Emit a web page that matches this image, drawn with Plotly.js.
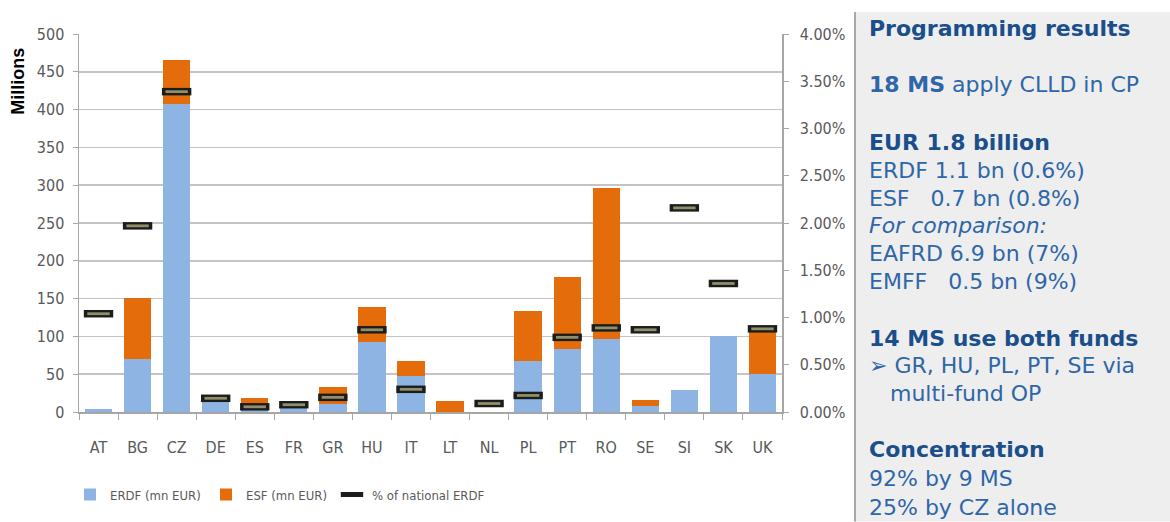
<!DOCTYPE html>
<html>
<head>
<meta charset="utf-8">
<script src="https://cdn.plot.ly/plotly-3.0.1.min.js"></script>
<style>
  html, body { margin: 0; padding: 0; background: #ffffff; }
  #chart { width: 1170px; height: 522px; }
</style>
</head>
<body>
<div id="chart"></div>
<script>
// CLLD programming by Member State
const countries = ['AT','BG','CZ','DE','ES','FR','GR','HU','IT','LT','NL','PL','PT','RO','SE','SI','SK','UK'];
const erdf = [4, 70, 407, 13, 10, 6, 11, 93, 48, 0, 0, 67, 83, 96, 8, 29, 100, 50];
const esf  = [0, 81, 58, 7, 9, 7, 22, 46, 19, 14, 0, 66, 96, 200, 8, 0, 0, 60];
const pctNationalErdf = [1.04, 1.97, 3.39, 0.145, 0.055, 0.077, 0.155, 0.87, 0.24, null, 0.09, 0.175, 0.79, 0.89, 0.87, 2.16, 1.36, 0.88];

// side panel lines: [text, y position in px, style]
const panelLines = [
  ['<b>Programming results</b>', 28, 'head'],
  ['<b>18 MS</b> apply CLLD in CP', 85, 'body'],
  ['<b>EUR 1.8 billion</b>', 143, 'head'],
  ['ERDF 1.1 bn (0.6%)', 171, 'body'],
  ['ESF   0.7 bn (0.8%)', 199, 'body'],
  ['<i>For comparison:</i>', 227, 'body'],
  ['EAFRD 6.9 bn (7%)', 255, 'body'],
  ['EMFF   0.5 bn (9%)', 283, 'body'],
  ['<b>14 MS use both funds</b>', 340, 'head'],
  ['\u27A2 GR, HU, PL, PT, SE via', 367, 'body'],
  ['   multi-fund OP', 395, 'body'],
  ['<b>Concentration</b>', 452, 'head'],
  ['92% by 9 MS', 481, 'body'],
  ['25% by CZ alone', 510, 'body']
];

const W = 1170, H = 522;
const M = { l: 79, r: 388, t: 34, b: 108 };
const PW = W - M.l - M.r, PH = H - M.t - M.b;
const px2x = px => (px - M.l) / PW;
const py2y = py => (M.t + PH - py) / PH;

const narrow = 'Liberation Sans Narrow, DejaVu Sans Condensed, Arial Narrow, sans-serif';
const axisFont = { family: narrow, size: 16, color: '#595959' };
const panelFont = 'DejaVu Sans, Verdana, sans-serif';
const legendFont = { family: narrow, size: 13, color: '#595959' };

const traces = [
  {
    type: 'bar', name: 'ERDF (mn EUR)', x: countries, y: erdf,
    marker: { color: '#8db4e2' }, yaxis: 'y', legend: 'legend'
  },
  {
    type: 'bar', name: 'ESF (mn EUR)', x: countries, y: esf,
    marker: { color: '#e46c0a' }, yaxis: 'y', legend: 'legend2'
  },
  {
    type: 'scatter', mode: 'markers', name: '% of national ERDF', legendgroup: 'pct', legend: 'legend3',
    x: countries, y: pctNationalErdf, yaxis: 'y2',
    marker: { symbol: 'line-ew', size: 21, line: { width: 7.5, color: '#1c1c1c' } }
  },
  {
    type: 'scatter', mode: 'markers', name: '% of national ERDF', legendgroup: 'pct', showlegend: false, legend: 'legend3',
    x: countries, y: pctNationalErdf, yaxis: 'y2',
    marker: { symbol: 'line-ew', size: 16, line: { width: 2.8, color: '#8f8f6a' } }
  }
];

const shapes = [
  { type: 'rect', xref: 'paper', yref: 'paper', x0: px2x(855), x1: px2x(1172), y0: py2y(524), y1: py2y(12),
    fillcolor: '#eeeeee', line: { width: 0 }, layer: 'below' },
  { type: 'line', xref: 'paper', yref: 'paper', x0: px2x(855), x1: px2x(855), y0: py2y(524), y1: py2y(12),
    line: { color: '#a8a8a8', width: 2 } }
];

const annotations = panelLines.map(([txt, py, kind]) => ({
  xref: 'paper', yref: 'paper', x: px2x(867), y: py2y(py),
  xanchor: 'left', yanchor: 'middle', showarrow: false, align: 'left',
  text: txt.replace(/ {2,}/g, s => '\u00A0'.repeat(s.length)),
  font: { family: panelFont, size: 22, color: kind === 'head' ? '#1b4f8c' : '#2e66a8' }
}));

// left axis caption
annotations.push({
  xref: 'paper', yref: 'paper', x: px2x(18), y: py2y(82),
  xanchor: 'center', yanchor: 'middle', showarrow: false, textangle: -90,
  text: '<b>Millions</b>',
  font: { family: 'Liberation Sans, Arial, sans-serif', size: 18, color: '#000000' }
});

const legendBase = { orientation: 'h', yanchor: 'middle', y: py2y(497), xanchor: 'left', font: legendFont, itemwidth: 30, bgcolor: 'rgba(0,0,0,0)' };

const layout = {
  width: W, height: H,
  margin: M,
  paper_bgcolor: '#ffffff', plot_bgcolor: '#ffffff',
  barmode: 'stack', bargap: 0.3,
  showlegend: true,
  legend:  Object.assign({}, legendBase, { x: px2x(70) }),
  legend2: Object.assign({}, legendBase, { x: px2x(206) }),
  legend3: Object.assign({}, legendBase, { x: px2x(332) }),
  xaxis: {
    type: 'category', range: [-0.5, countries.length - 0.5],
    showline: true, linecolor: '#a6a6a6', linewidth: 1.5,
    ticks: 'outside', tickson: 'boundaries', ticklen: 6, tickcolor: '#a6a6a6',
    tickfont: axisFont, ticklabelstandoff: 20, showgrid: false, fixedrange: true
  },
  yaxis: {
    range: [0, 500], dtick: 50, showline: true, linecolor: '#a6a6a6', linewidth: 1.5,
    ticks: 'outside', ticklen: 5, tickcolor: '#a6a6a6',
    gridcolor: '#c4c4c4', gridwidth: 1.5, zeroline: false,
    tickfont: axisFont, ticklabelstandoff: 5,
    automargin: false, fixedrange: true
  },
  yaxis2: {
    overlaying: 'y', side: 'right', range: [0, 4], dtick: 0.5,
    tickformat: '.2f', ticksuffix: '%',
    showline: true, linecolor: '#a6a6a6', linewidth: 1.5,
    ticks: 'outside', ticklen: 5, tickcolor: '#a6a6a6',
    showgrid: false, zeroline: false, tickfont: axisFont, ticklabelstandoff: 8,
    automargin: false, fixedrange: true
  },
  shapes: shapes,
  annotations: annotations
};

Plotly.newPlot('chart', traces, layout, { displayModeBar: false, staticPlot: true });
</script>
</body>
</html>
